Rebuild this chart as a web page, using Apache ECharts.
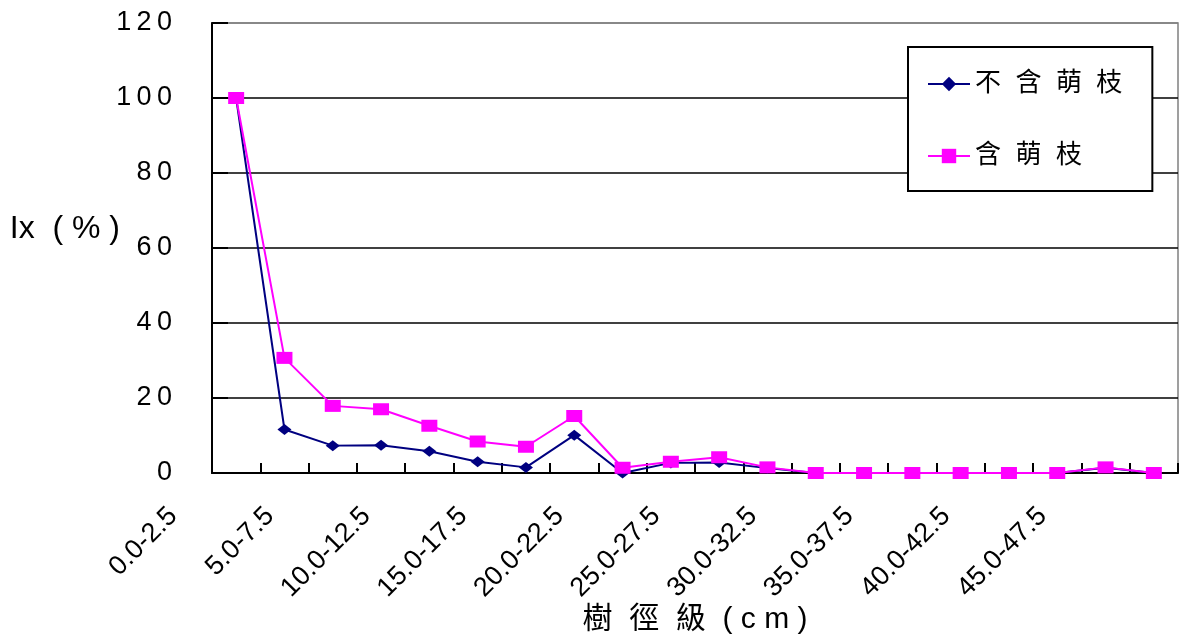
<!DOCTYPE html>
<html>
<head>
<meta charset="utf-8">
<script src="https://cdn.jsdelivr.net/npm/echarts@6/dist/echarts.min.js"></script>
<style>
  html, body { margin: 0; padding: 0; background: #fff; }
  #chart { width: 1179px; height: 641px; }
</style>
</head>
<body>
<div id="chart"></div>
<script>
// Diameter classes (cm)
const categories = [
  '0.0-2.5', '2.5-5.0', '5.0-7.5', '7.5-10.0', '10.0-12.5', '12.5-15.0',
  '15.0-17.5', '17.5-20.0', '20.0-22.5', '22.5-25.0', '25.0-27.5', '27.5-30.0',
  '30.0-32.5', '32.5-35.0', '35.0-37.5', '37.5-40.0', '40.0-42.5', '42.5-45.0',
  '45.0-47.5', '47.5-50.0'
];

// Ix (%) without sprouts
const withoutSprouts = [100, 11.6, 7.3, 7.4, 5.8, 3.0, 1.5, 10.1, 0, 2.7, 2.8, 1.3, 0, 0, 0, 0, 0, 0, 1.4, 0];
// Ix (%) with sprouts
const withSprouts = [100, 30.7, 17.9, 17.0, 12.6, 8.4, 7.0, 15.2, 1.4, 3.0, 4.2, 1.5, 0, 0, 0, 0, 0, 0, 1.5, 0];

const seriesNames = ['不含萌枝', '含萌枝'];
const yTicks = { min: 0, max: 120, step: 20 };
const xTitle = '樹  徑  級  ( c m )';
const yTitle = 'Ix  ( % )';

const LATIN = 'Liberation Sans, Arial, sans-serif';
const CJK = 'Liberation Sans, "Noto Sans CJK TC", sans-serif';

const spaced = (s, sep) => s.split('').join(sep);

const chart = echarts.init(document.getElementById('chart'));
chart.setOption({
  animation: false,
  backgroundColor: '#fff',
  grid: {
    left: 212, right: 1, top: 23, bottom: 168,
    containLabel: false,
    outerBoundsMode: 'none',
    show: true, borderColor: '#808080', borderWidth: 1.5, backgroundColor: 'transparent'
  },
  // axis titles
  graphic: [
    {
      type: 'text', x: 695, y: 620, silent: true,
      style: { text: xTitle, font: '30px ' + CJK, fill: '#000', textAlign: 'center', textVerticalAlign: 'middle' }
    },
    {
      type: 'text', x: 120, y: 229, silent: true,
      style: { text: yTitle, font: '32px ' + LATIN, fill: '#000', textAlign: 'right', textVerticalAlign: 'middle' }
    }
  ],
  legend: {
    orient: 'vertical',
    left: 908, top: 47,
    padding: [22, 30, 20, 19],
    itemGap: 42,
    itemWidth: 42, itemHeight: 18,
    backgroundColor: '#fff',
    borderColor: '#000', borderWidth: 2, borderRadius: 0,
    formatter: name => spaced(name, '  '),
    textStyle: { fontFamily: CJK, fontSize: 26, color: '#000', lineHeight: 30 },
    data: seriesNames
  },
  xAxis: {
    type: 'category',
    data: categories,
    boundaryGap: true,
    axisLine: { lineStyle: { color: '#000', width: 2 } },
    axisTick: { show: true, inside: true, length: 10, interval: 0, alignWithLabel: false,
                lineStyle: { color: '#000', width: 2 } },
    axisLabel: {
      interval: 1, rotate: 45, margin: -24,
      padding: [0, 89, 0, 0],
      fontFamily: LATIN, fontSize: 27, color: '#000'
    },
    splitLine: { show: false }
  },
  yAxis: {
    type: 'value',
    min: yTicks.min, max: yTicks.max, interval: yTicks.step,
    axisLine: { show: true, lineStyle: { color: '#000', width: 2 } },
    axisTick: { show: true, inside: true, length: 16, lineStyle: { color: '#000', width: 2 } },
    axisLabel: {
      margin: 40,
      fontFamily: LATIN, fontSize: 27, color: '#000',
      formatter: v => spaced(String(v), '\u2009')
    },
    splitLine: {
      show: true,
      lineStyle: { color: ['#000', '#000', '#000', '#000', '#000', '#000', '#808080'], width: 1.5 }
    }
  },
  series: [
    {
      name: seriesNames[0],
      type: 'line',
      data: withoutSprouts,
      color: '#000080',
      symbol: 'diamond',
      symbolSize: [14, 11],
      lineStyle: { color: '#000080', width: 2 },
      itemStyle: { color: '#000080' }
    },
    {
      name: seriesNames[1],
      type: 'line',
      data: withSprouts,
      color: '#FF00FF',
      symbol: 'rect',
      symbolSize: [16, 12],
      lineStyle: { color: '#FF00FF', width: 2 },
      itemStyle: { color: '#FF00FF' }
    }
  ]
});
</script>
</body>
</html>
